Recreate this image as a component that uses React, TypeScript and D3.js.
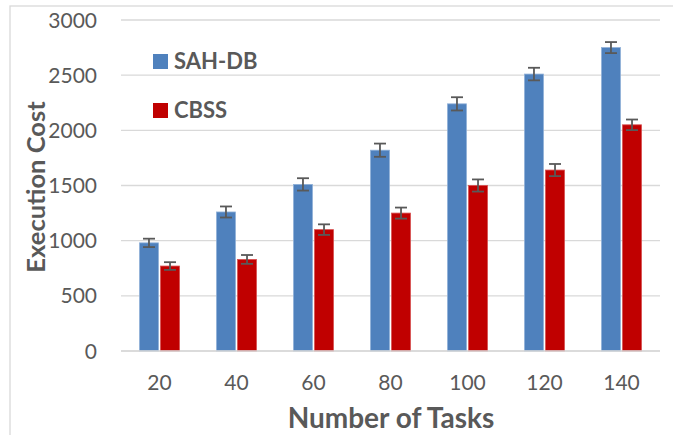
import React from "react";
import * as d3 from "d3";

const categories = ["20", "40", "60", "80", "100", "120", "140"];
const sahdb = [980, 1260, 1510, 1820, 2240, 2510, 2750];
const sahdbErr = [38, 50, 56, 60, 60, 57, 50];
const cbss = [770, 830, 1100, 1250, 1500, 1640, 2050];
const cbssErr = [35, 40, 48, 50, 55, 55, 48];
const yTicks = [0, 500, 1000, 1500, 2000, 2500, 3000];
const seriesNames = ["SAH-DB", "CBSS"];

const W = 673;
const H = 435;
const left = 121;
const right = 660;
const top = 20;
const bottom = 351;
const font = "Lato, 'Open Sans', sans-serif";
const colors = ["#4F81BD", "#C00000"];
const strokes = ["#8FB0D8", "#D65050"];

export default function App() {
  const x0 = d3.scaleBand<string>().domain(categories).range([left, right]).paddingInner(0).paddingOuter(0);
  const y = d3.scaleLinear().domain([0, 3000]).range([bottom, top]);
  const x1 = d3.scaleBand<number>().domain([0, 1]).range([-20, 20]).paddingInner(0.1);
  const series = [
    { vals: sahdb, errs: sahdbErr },
    { vals: cbss, errs: cbssErr },
  ];
  const capW = 12;

  return (
    <div style={{ position: "absolute", left: 0, top: 0 }}>
      <svg width={W} height={H} style={{ display: "block" }}>
        <rect x={0} y={0} width={W} height={H} fill="#fff" />
        <rect x={10} y={6} width={800} height={600} fill="none" stroke="#d9d9d9" strokeWidth={1.3} />
        {yTicks.map((t) => (
          <g key={t}>
            <line x1={left} x2={right} y1={y(t)} y2={y(t)} stroke="#d9d9d9" strokeWidth={1.4} />
            <text x={97} y={y(t)} dy="0.36em" textAnchor="end" fontFamily={font} fontSize={21} fill="#595959">
              {t}
            </text>
          </g>
        ))}
        {categories.map((c, i) => {
          const cx = (x0(c) as number) + x0.bandwidth() / 2;
          return (
            <g key={c}>
              {series.map((s, k) => {
                const bx = cx + (x1(k) as number);
                const bw = x1.bandwidth();
                const v = s.vals[i];
                const e = s.errs[i];
                const mx = bx + bw / 2;
                return (
                  <g key={k}>
                    <rect
                      x={bx}
                      y={y(v)}
                      width={bw}
                      height={y(0) - y(v)}
                      fill={colors[k]}
                      stroke={strokes[k]}
                      strokeWidth={0.8}
                    />
                    <line x1={mx} x2={mx} y1={y(v + e)} y2={y(v - e)} stroke="#595959" strokeWidth={1.8} />
                    <line x1={mx - capW / 2} x2={mx + capW / 2} y1={y(v + e)} y2={y(v + e)} stroke="#595959" strokeWidth={1.8} />
                    <line x1={mx - capW / 2} x2={mx + capW / 2} y1={y(v - e)} y2={y(v - e)} stroke="#595959" strokeWidth={1.8} />
                  </g>
                );
              })}
              <text x={cx} y={382} dy="0.36em" textAnchor="middle" fontFamily={font} fontSize={21} fill="#595959">
                {c}
              </text>
            </g>
          );
        })}
        <line x1={left} x2={right} y1={y(0)} y2={y(0)} stroke="#d9d9d9" strokeWidth={1.4} />
        {seriesNames.map((n, k) => (
          <g key={n}>
            <rect x={153} y={54 + k * 49} width={15} height={15} fill={colors[k]} />
            <text x={174} y={69 + k * 49} fontFamily={font} fontWeight="bold" fontSize={22} fill="#595959">
              {n}
            </text>
          </g>
        ))}
        <text
          transform={`translate(45, 187) rotate(-90)`}
          textAnchor="middle"
          fontFamily={font}
          fontWeight="bold"
          fontSize={25.5}
          fill="#595959"
        >
          Execution Cost
        </text>
        <text x={391} y={428} textAnchor="middle" fontFamily={font} fontWeight="bold" fontSize={28} fill="#595959">
          Number of Tasks
        </text>
      </svg>
    </div>
  );
}
